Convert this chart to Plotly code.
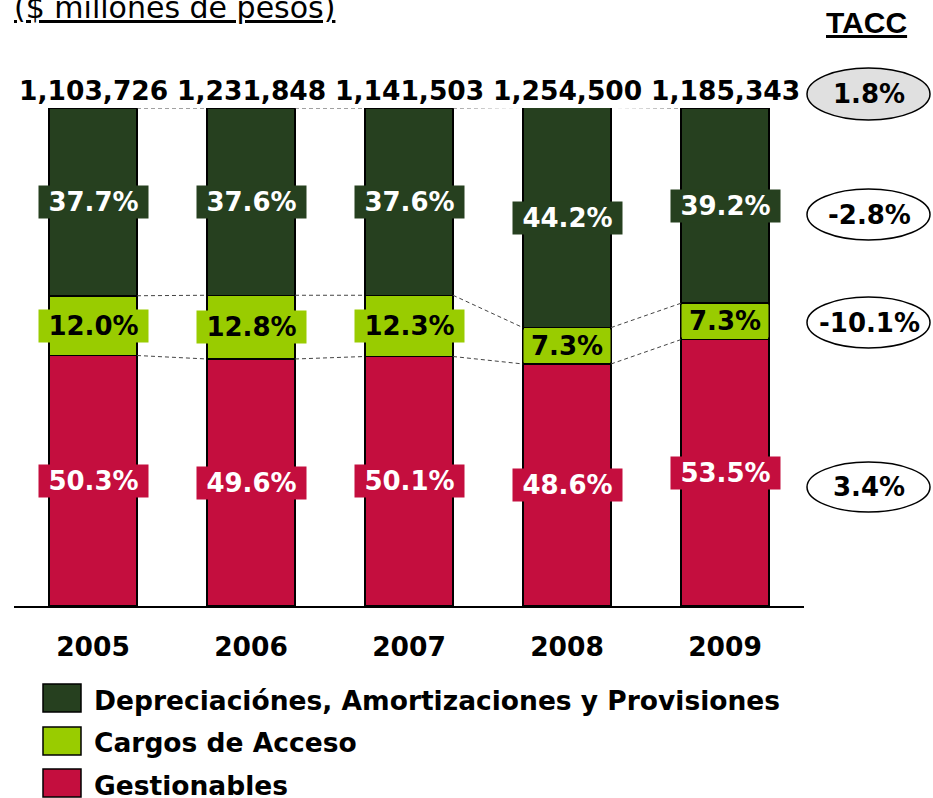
import plotly.graph_objects as go

# ---------------- data ----------------
years = ["2005", "2006", "2007", "2008", "2009"]
gestionables = [50.3, 49.6, 50.1, 48.6, 53.5]
cargos_acceso = [12.0, 12.8, 12.3, 7.3, 7.3]
depreciaciones = [37.7, 37.6, 37.6, 44.2, 39.2]
totales = [1103726, 1231848, 1141503, 1254500, 1185343]
series_names = ["Depreciaciónes, Amortizaciones y Provisiones", "Cargos de Acceso", "Gestionables"]
tacc_labels = ["1.8%", "-2.8%", "-10.1%", "3.4%"]

# ---------------- style ----------------
W, H = 933, 798
L, R, T, B = 14, 804, 108, 606
C_DARK = "#26401F"
C_LIME = "#99CC00"
C_RED = "#C40E3E"
FONT = "DejaVu Sans"
BAR_W = 0.557

def px(x):
    return (x - L) / (R - L)

def py(y):
    return (B - y) / (B - T)

xs = list(range(len(years)))
fig = go.Figure()

stack = [
    (gestionables, C_RED, "white", series_names[2]),
    (cargos_acceso, C_LIME, "black", series_names[1]),
    (depreciaciones, C_DARK, "white", series_names[0]),
]
for vals, col, _, name in stack:
    fig.add_trace(go.Bar(x=xs, y=vals, width=BAR_W, marker=dict(color=col, line=dict(color="black", width=1.5)),
                         name=name, showlegend=False, hoverinfo="skip"))

# cumulative levels
cum_red = gestionables
cum_green = [a + b for a, b in zip(gestionables, cargos_acceso)]
cum_top = [a + b for a, b in zip(cum_green, depreciaciones)]

lx, ly = [], []
for level in (cum_red, cum_green, cum_top):
    for i in range(len(xs) - 1):
        lx += [xs[i] + BAR_W / 2, xs[i + 1] - BAR_W / 2, None]
        ly += [level[i], level[i + 1], None]
fig.add_trace(go.Scatter(x=lx, y=ly, mode="lines", line=dict(color="#444444", width=1, dash="4px,3px"),
                         showlegend=False, hoverinfo="skip"))

annotations = []
# segment labels
bottoms = [[0] * len(xs), cum_red, cum_green]
for (vals, col, tcol, _), bot in zip(stack, bottoms):
    for i, v in enumerate(vals):
        txt = "%.1f%%" % v
        annotations.append(dict(x=xs[i], y=bot[i] + v / 2, xref="x", yref="y", showarrow=False,
                                xanchor="center", yanchor="middle",
                                text=txt, bgcolor=col, borderpad=1, width=107 if len(txt) > 4 else 84,
                                font=dict(family=FONT, size=26, color=tcol, weight="bold")))
# totals
for i, t in enumerate(totales):
    annotations.append(dict(x=xs[i], y=100, xref="x", yref="y", xanchor="center", yanchor="bottom",
                            showarrow=False, text=f"{t:,}", yshift=0,
                            font=dict(family=FONT, size=26.5, color="black", weight="bold")))

# title & TACC header
annotations.append(dict(x=px(12), y=py(8), xref="paper", yref="paper", xanchor="left", yanchor="middle",
                        showarrow=False, text="<u>($ millones de pesos)</u>",
                        font=dict(family=FONT, size=30, color="black")))
annotations.append(dict(x=px(866), y=py(22), xref="paper", yref="paper", xanchor="center", yanchor="middle",
                        showarrow=False, text="<u>TACC</u>",
                        font=dict(family="Liberation Sans", size=30, color="black", weight="bold")))

shapes = []
# TACC ellipses
ell_y = [(68, 120), (189, 240), (297, 348), (462, 512)]
ell_fill = ["#E0E0E0", "white", "white", "white"]
for lab, (y0, y1), fc in zip(tacc_labels, ell_y, ell_fill):
    shapes.append(dict(type="circle", xref="paper", yref="paper", x0=px(807), x1=px(930), y0=py(y1), y1=py(y0),
                       fillcolor=fc, line=dict(color="black", width=1.5), layer="below"))
    annotations.append(dict(x=px(869), y=py((y0 + y1) / 2), xref="paper", yref="paper", showarrow=False,
                            xanchor="center", yanchor="middle",
                            text=lab, font=dict(family=FONT, size=26, color="black", weight="bold")))

# legend (manual)
leg_cols = [C_DARK, C_LIME, C_RED]
leg_rows = [698, 741, 783]
for name, col, yc in zip(series_names, leg_cols, leg_rows):
    shapes.append(dict(type="rect", xref="paper", yref="paper", x0=px(43), x1=px(81), y0=py(yc + 14), y1=py(yc - 14),
                       fillcolor=col, line=dict(color="black", width=1.5)))
    annotations.append(dict(x=px(92), y=py(yc + 2), xref="paper", yref="paper", xanchor="left", yanchor="middle",
                            showarrow=False, text=name,
                            font=dict(family=FONT, size=26.5, color="black", weight="bold")))

fig.update_layout(
    width=W, height=H,
    margin=dict(l=L, r=W - R, t=T, b=H - B, pad=0),
    paper_bgcolor="white", plot_bgcolor="white",
    barmode="stack",
    showlegend=False,
    annotations=annotations,
    shapes=shapes,
    xaxis=dict(range=[-0.5, 4.5], tickvals=xs, ticktext=years, showgrid=False, zeroline=False,
               showline=True, linecolor="black", linewidth=2, ticks="", ticklabelstandoff=16,
               tickfont=dict(family=FONT, size=26.5, color="black", weight="bold")),
    yaxis=dict(range=[0, 100], visible=False, showgrid=False, zeroline=False),
)

fig.write_html("out.html", config={"displayModeBar": False},
               post_script="document.body.style.margin='0px';document.body.style.overflow='hidden';")
